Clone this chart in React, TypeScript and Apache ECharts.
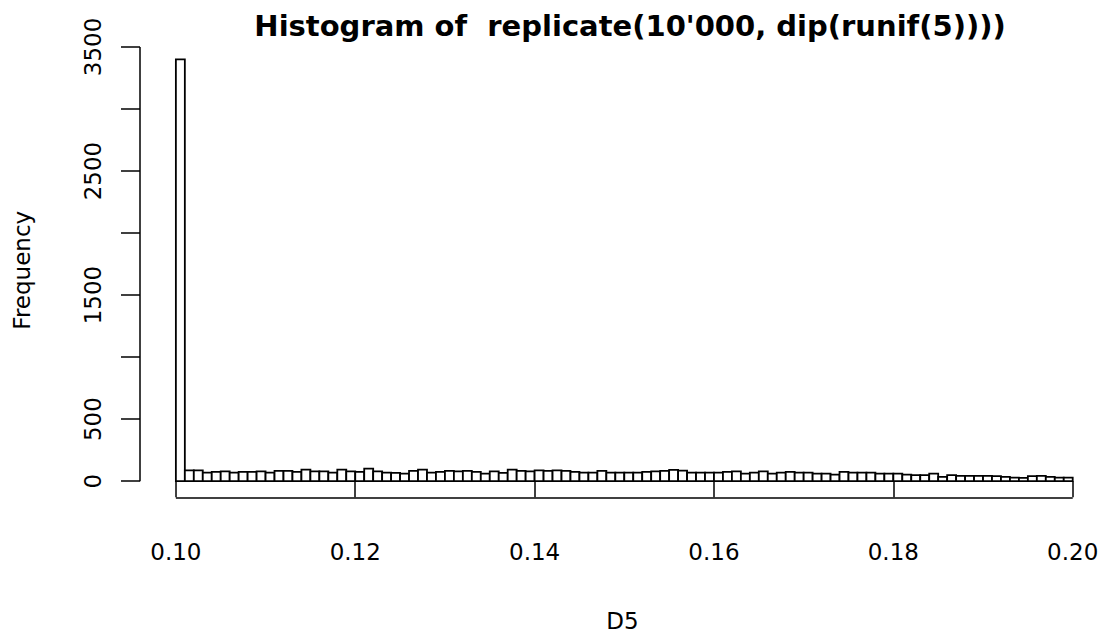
import React, { useEffect, useRef } from "react";
import * as echarts from "echarts";

// Histogram bin counts, bins of width 0.001 from 0.100 to 0.200
const binStart = 0.1;
const binWidth = 0.001;
const counts: number[] = [
  3400, 87, 87, 69, 74, 79, 69, 74, 74, 79,
  69, 82, 82, 74, 93, 79, 79, 69, 93, 79,
  74, 100, 79, 69, 66, 61, 82, 93, 69, 74,
  82, 79, 82, 74, 61, 79, 66, 93, 82, 79,
  87, 82, 87, 82, 74, 69, 69, 82, 69, 69,
  69, 69, 74, 79, 82, 90, 85, 69, 69, 69,
  69, 74, 79, 61, 69, 79, 61, 69, 74, 69,
  69, 61, 61, 53, 74, 69, 69, 69, 61, 61,
  61, 53, 48, 48, 61, 34, 48, 42, 42, 42,
  42, 40, 34, 29, 26, 40, 42, 34, 29, 29,
];

const xTicks = [0.1, 0.12, 0.14, 0.16, 0.18, 0.2];
const yTicks = [0, 500, 1000, 1500, 2000, 2500, 3000, 3500];
const yLabels = [0, 500, 1500, 2500, 3500];

const titleText = "Histogram of  replicate(10'000, dip(runif(5))))";
const xName = "D5";
const yName = "Frequency";

const FONT = "DejaVu Sans";

export default function App() {
  const ref = useRef<HTMLDivElement>(null);

  useEffect(() => {
    if (!ref.current) return;
    const chart = echarts.init(ref.current, null, { renderer: "svg" });
    const bins = counts.map((c, i) => [
      binStart + i * binWidth,
      binStart + (i + 1) * binWidth,
      c,
    ]);
    const yMin = -136;
    const yMax = 3536;
    const xMin = 0.096;
    const xMax = 0.2036;

    chart.setOption({
      animation: false,
      backgroundColor: "#ffffff",
      title: {
        text: titleText,
        left: 625,
        top: 6,
        textAlign: "center",
        textStyle: {
          fontFamily: FONT,
          fontWeight: "bold",
          fontSize: 29,
          color: "#000",
        },
      },
      grid: { left: 140, right: 0, top: 42.5, bottom: 131.9 },
      xAxis: {
        type: "value",
        min: xMin,
        max: xMax,
        splitLine: { show: false },
        axisLine: { show: false },
        axisTick: {
          show: true,
          customValues: xTicks,
          length: 16,
          lineStyle: { color: "#000", width: 1.5 },
        },
        axisLabel: {
          show: true,
          customValues: xTicks,
          formatter: (v: number) => v.toFixed(2),
          margin: 42,
          fontFamily: FONT,
          fontSize: 23,
          color: "#000",
        },
        name: xName,
        nameLocation: "middle",
        nameGap: 111,
        nameTextStyle: { fontFamily: FONT, fontSize: 23, color: "#000" },
      },
      yAxis: {
        type: "value",
        min: yMin,
        max: yMax,
        splitLine: { show: false },
        axisLine: { show: false },
        axisTick: {
          show: true,
          customValues: yTicks,
          length: 19,
          lineStyle: { color: "#000", width: 1.5 },
        },
        axisLabel: {
          show: true,
          customValues: yLabels,
          formatter: (v: number) => String(Math.round(v)),
          rotate: 90,
          margin: 36,
          fontFamily: FONT,
          fontSize: 23,
          color: "#000",
        },
        name: yName,
        nameLocation: "middle",
        nameGap: 107,
        nameTextStyle: { fontFamily: FONT, fontSize: 23, color: "#000" },
      },
      series: [
        {
          type: "custom",
          data: bins,
          encode: { x: [0, 1], y: 2 },
          clip: false,
          renderItem: (params: any, api: any) => {
            const p0 = api.coord([api.value(0), api.value(2)]);
            const p1 = api.coord([api.value(1), 0]);
            return {
              type: "rect",
              shape: {
                x: p0[0],
                y: p0[1],
                width: p1[0] - p0[0],
                height: p1[1] - p0[1],
              },
              style: { fill: "#ffffff", stroke: "#000000", lineWidth: 1.8 },
            };
          },
        },
        {
          type: "line",
          data: [
            [xMin, 0],
            [xMin, 3500],
          ],
          symbol: "none",
          clip: false,
          lineStyle: { color: "#000", width: 1.5 },
          silent: true,
        },
        {
          type: "line",
          data: [
            [0.1, yMin],
            [0.2, yMin],
          ],
          symbol: "none",
          clip: false,
          lineStyle: { color: "#000", width: 1.5 },
          silent: true,
        },
      ],
    });
    return () => chart.dispose();
  }, []);

  return (
    <div
      ref={ref}
      style={{ position: "absolute", left: 0, top: 0, width: 1105, height: 637 }}
    />
  );
}
